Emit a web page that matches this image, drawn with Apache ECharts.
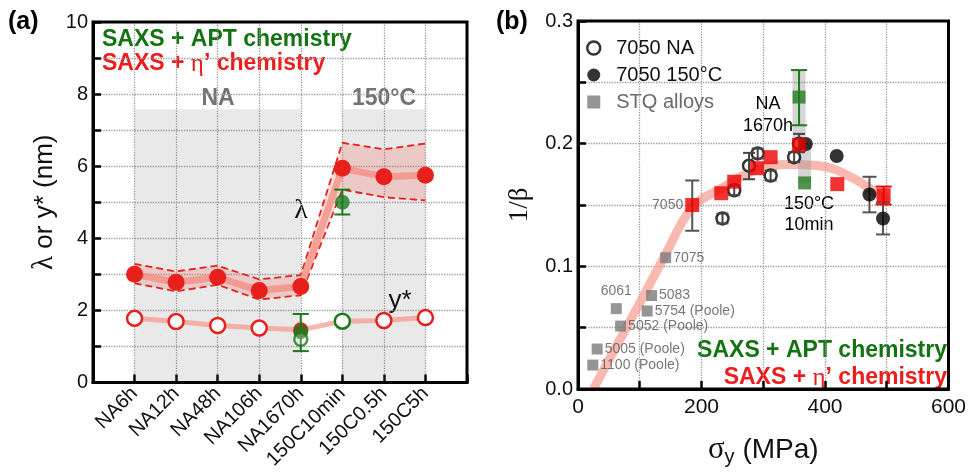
<!DOCTYPE html>
<html>
<head>
<meta charset="utf-8">
<script src="https://cdn.jsdelivr.net/npm/echarts@6/dist/echarts.min.js"></script>
<style>
  html, body { margin: 0; background: #fff; }
  #chart { width: 969px; height: 472px; }
</style>
</head>
<body>
<div id="chart"></div>
<script>
// ── Panel (a) data ──
const samples = ['NA6h', 'NA12h', 'NA48h', 'NA106h', 'NA1670h', '150C10min', '150C0.5h', '150C5h'];
const lambda = [3.0, 2.78, 2.92, 2.55, 2.66, 5.94, 5.71, 5.75];
const lambdaHigh = [3.29, 3.08, 3.24, 2.86, 2.98, 6.65, 6.47, 6.63];
const lambdaLow = [2.75, 2.53, 2.71, 2.30, 2.42, 5.35, 5.14, 5.05];
const yStar = [1.78, 1.69, 1.58, 1.51, 1.46, 1.70, 1.72, 1.80];
// APT chemistry: [sample index, value, low, high]
const aptLambda = [[5, 5.0, 4.66, 5.35]];
const aptYStar = [[4, 1.41, 0.87, 1.90]];
const aptYStarOpen = [[4, 1.2]];
const shadeRanges = [[0, 4], [5, 7]];
const shadeTop = 7.58;

// ── Panel (b) data ──  [sigma_y (MPa), 1/beta]
const naPts = [[358, 0.200], [234, 0.139], [253, 0.162], [277, 0.182], [291, 0.192], [312, 0.174], [350, 0.189]];
const naErr = [[358, 0.193, 0.208], [234, 0.135, 0.143], [253, 0.158, 0.166], [277, 0.171, 0.1925],
               [291, 0.188, 0.196], [312, 0.170, 0.178], [350, 0.185, 0.193]];
const t150Pts = [[369, 0.1997], [419, 0.190], [472, 0.1586], [494, 0.139]];
const t150Err = [[472, 0.144, 0.173], [494, 0.126, 0.152]];
const stqNames = ['7075', '5083', '6061', '5754 (Poole)', '5052 (Poole)', '5005 (Poole)', '1100 (Poole)'];
const stqPts = [[142, 0.107], [119, 0.0762], [62, 0.0655], [112, 0.0636], [69, 0.0513], [31, 0.0326], [24, 0.0195]];
const etaPts = [[185, 0.150], [232, 0.1596], [253, 0.169], [290, 0.180], [312, 0.189], [358, 0.199], [420, 0.167], [495, 0.158]];
const etaErr7050 = [[185, 0.129, 0.170]];
const etaErrHigh = [[495, 0.1505, 0.165]];
const aptPts = [[358, 0.238], [367, 0.168]];
const aptErr = [[358, 0.215, 0.260]];
const rangeBars = [[[358, 0.260], [358, 0.200]], [[367, 0.200], [367, 0.168]]];
const trend = [[25, 0], [60, 0.033], [100, 0.07], [140, 0.108], [185, 0.148], [230, 0.163], [285, 0.178],
               [340, 0.183], [390, 0.182], [445, 0.172], [500, 0.153]];

const RED = '#e8201c';
const GREEN = '#1b7a1b';
const FONT = '"Liberation Sans", Arial, sans-serif';
const SERIF = '"Liberation Serif", "Times New Roman", serif';

function errorBar(data, color, gi, half, z) {
  return {
    type: 'custom', xAxisIndex: gi, yAxisIndex: gi, z, silent: true,
    data,
    encode: { x: 0, y: [1, 2] },
    renderItem(params, api) {
      const x = api.value(0);
      const lo = api.coord([x, api.value(1)]);
      const hi = api.coord([x, api.value(2)]);
      const style = { stroke: color, lineWidth: 2 };
      return {
        type: 'group',
        children: [
          { type: 'line', shape: { x1: lo[0], y1: lo[1], x2: hi[0], y2: hi[1] }, style },
          { type: 'line', shape: { x1: lo[0] - half, y1: lo[1], x2: lo[0] + half, y2: lo[1] }, style },
          { type: 'line', shape: { x1: hi[0] - half, y1: hi[1], x2: hi[0] + half, y2: hi[1] }, style },
        ],
      };
    },
  };
}

const frameAxis = (extra) => Object.assign({
  axisLine: { show: true, onZero: false, lineStyle: { color: '#000', width: 3 } },
  axisTick: { show: true, inside: true, length: 8, lineStyle: { color: '#000', width: 2.5 } },
  splitLine: { show: true, lineStyle: { type: 'dotted', color: '#9a9a9a', width: 1.3 } },
}, extra);

const idx = samples.map((_, i) => i);

const chart = echarts.init(document.getElementById('chart'));
chart.setOption({
  animation: false,
  textStyle: { fontFamily: FONT },
  grid: [
    { left: 93, top: 22, width: 374, height: 372, show: true, borderColor: '#000', borderWidth: 3, z: 10 },
    { left: 578, top: 21, width: 375, height: 374, show: true, borderColor: '#000', borderWidth: 3, z: 10 },
  ],
  xAxis: [
    frameAxis({
      type: 'value', gridIndex: 0, min: -1, max: 8, interval: 1,
      axisLabel: { rotate: 45, fontSize: 20, color: '#111', margin: 8,
        formatter: v => samples[v] || '' },
    }),
    frameAxis({
      type: 'value', gridIndex: 1, min: 0, max: 600, interval: 100,
      axisLabel: { fontSize: 21, color: '#111', margin: 8,
        formatter: v => (v % 200 === 0 ? String(v) : '') },
      name: '{s|σ}{sub|y} (MPa)', nameLocation: 'middle', nameGap: 44,
      nameTextStyle: { fontSize: 28, color: '#111',
        rich: { s: { fontFamily: SERIF, fontSize: 31, color: '#111' },
                sub: { fontSize: 20, color: '#111', padding: [14, 0, 0, 0] } } },
    }),
  ],
  yAxis: [
    frameAxis({
      type: 'value', gridIndex: 0, min: 0, max: 10, interval: 1,
      axisLabel: { fontSize: 20, color: '#111', margin: 5,
        formatter: v => (v % 2 === 0 ? String(v) : '') },
      name: '{s|λ} or y* (nm)', nameLocation: 'middle', nameGap: 34,
      nameTextStyle: { fontSize: 26, color: '#111',
        rich: { s: { fontFamily: SERIF, fontSize: 29, color: '#111' } } },
    }),
    frameAxis({
      type: 'value', gridIndex: 1, min: 0, max: 0.3, interval: 0.05,
      axisLabel: { fontSize: 20, color: '#111', margin: 5,
        formatter: v => (Math.round(v * 100) % 10 === 0 ? v.toFixed(1) : '') },
      name: '1/β', nameLocation: 'middle', nameGap: 45,
      nameTextStyle: { fontFamily: SERIF, fontSize: 27, color: '#111' },
    }),
  ],
  legend: {
    left: 581, top: 33, orient: 'vertical', itemGap: 7, itemWidth: 13, itemHeight: 13,
    textStyle: { fontSize: 20, color: '#111', padding: [0, 0, 0, 11] },
    data: [
      { name: '7050 NA', icon: 'circle', itemStyle: { color: '#fff', borderColor: '#000', borderWidth: 2.5 } },
      { name: '7050 150°C', icon: 'circle' },
      { name: 'STQ alloys', icon: 'rect', textStyle: { color: '#6a6a6a' } },
    ],
  },
  series: [
    // ── Panel (a) ──
    {
      type: 'line', xAxisIndex: 0, yAxisIndex: 0, z: 0, silent: true, data: [],
      markArea: {
        silent: true,
        itemStyle: { color: 'rgba(120,120,120,0.16)' },
        data: shadeRanges.map(r => [{ coord: [r[0], 0] }, { coord: [r[1], shadeTop] }]),
      },
    },
    {
      // shaded band between lower and upper lambda bounds
      type: 'custom', xAxisIndex: 0, yAxisIndex: 0, z: 1, silent: true,
      data: [[0, lambdaLow[0]]],
      renderItem(params, api) {
        const upper = idx.map(i => api.coord([i, lambdaHigh[i]]));
        const lower = idx.map(i => api.coord([i, lambdaLow[i]])).reverse();
        return { type: 'polygon', shape: { points: upper.concat(lower) },
                 style: { fill: 'rgba(238,100,90,0.24)' } };
      },
    },
    ...[lambdaLow, lambdaHigh].map(arr => ({
      type: 'line', xAxisIndex: 0, yAxisIndex: 0, z: 2, silent: true, symbol: 'none',
      lineStyle: { color: RED, width: 1.8, type: [7, 4] },
      data: idx.map(i => [i, arr[i]]),
    })),
    {
      type: 'line', xAxisIndex: 0, yAxisIndex: 0, z: 3, silent: true,
      symbol: 'circle', symbolSize: 17,
      itemStyle: { color: RED },
      lineStyle: { color: 'rgba(246,140,128,0.75)', width: 7 },
      data: idx.map(i => [i, lambda[i]]),
    },
    {
      type: 'line', xAxisIndex: 0, yAxisIndex: 0, z: 3, silent: true,
      symbol: 'circle', symbolSize: 15,
      lineStyle: { color: 'rgba(246,150,140,0.7)', width: 5 },
      data: idx.map(i => ({
        value: [i, yStar[i]],
        itemStyle: samples[i] === 'NA1670h'
          ? { color: RED }
          : samples[i] === '150C10min'
            ? { color: '#fff', borderColor: GREEN, borderWidth: 2.5 }
            : { color: '#fff', borderColor: RED, borderWidth: 2.5 },
      })),
    },
    errorBar(aptLambda.concat(aptYStar).map(d => [d[0], d[2], d[3]]), GREEN, 0, 8, 4),
    {
      type: 'scatter', xAxisIndex: 0, yAxisIndex: 0, z: 5, silent: true,
      symbolSize: 15, itemStyle: { color: GREEN },
      data: aptLambda.concat(aptYStar).map(d => [d[0], d[1]]),
    },
    {
      type: 'scatter', xAxisIndex: 0, yAxisIndex: 0, z: 5, silent: true,
      symbolSize: 13, itemStyle: { color: 'rgba(255,255,255,0.3)', borderColor: GREEN, borderWidth: 2.5 },
      data: aptYStarOpen,
    },

    // ── Panel (b) ──
    {
      type: 'line', xAxisIndex: 1, yAxisIndex: 1, z: 1, silent: true, smooth: 0.4,
      symbol: 'none', lineStyle: { color: 'rgba(247,160,150,0.75)', width: 9 },
      data: trend,
    },
    ...rangeBars.map(seg => ({
      type: 'line', xAxisIndex: 1, yAxisIndex: 1, z: 2, silent: true, symbol: 'none',
      lineStyle: { color: 'rgba(150,150,150,0.4)', width: 13, cap: 'butt' },
      data: seg,
    })),
    errorBar(t150Err.concat(etaErr7050), '#555', 1, 7, 2),
    {
      name: 'STQ alloys', type: 'scatter', xAxisIndex: 1, yAxisIndex: 1, z: 3, silent: true,
      symbol: 'rect', symbolSize: 11, itemStyle: { color: '#7a7a7a' },
      label: { show: true, position: 'right', distance: 2, fontSize: 14, color: '#555',
        formatter: p => stqNames[p.dataIndex] },
      data: stqPts.map((p, i) => ({
        value: p,
        label: stqNames[i] === '6061' ? { position: 'top', distance: 5 } : undefined,
      })),
    },
    {
      name: '7050 NA', type: 'scatter', xAxisIndex: 1, yAxisIndex: 1, z: 3, silent: true,
      symbolSize: 12, itemStyle: { color: '#fff', borderColor: '#000', borderWidth: 2.5 },
      data: naPts,
    },
    errorBar(naErr, '#444', 1, 6, 4),
    {
      name: '7050 150°C', type: 'scatter', xAxisIndex: 1, yAxisIndex: 1, z: 3, silent: true,
      symbolSize: 14, itemStyle: { color: '#000' },
      data: t150Pts,
    },
    errorBar(etaErrHigh, '#ee0000', 1, 8, 4),
    errorBar(aptErr, GREEN, 1, 8, 4),
    {
      type: 'scatter', xAxisIndex: 1, yAxisIndex: 1, z: 5, silent: true,
      symbol: 'rect', symbolSize: 14, itemStyle: { color: '#ee0000' },
      label: { show: false },
      data: etaPts.map((p, i) => ({
        value: p,
        label: i === 0 ? { show: true, position: 'left', distance: 2, fontSize: 14, color: '#555', formatter: '7050' } : undefined,
      })),
    },
    {
      type: 'scatter', xAxisIndex: 1, yAxisIndex: 1, z: 5, silent: true,
      symbol: 'rect', symbolSize: 13, itemStyle: { color: '#237b23' },
      data: aptPts,
    },
  ],
  graphic: [
    { type: 'text', x: 8, y: 22, style: { text: '(a)', font: 'bold 25px ' + FONT, fill: '#000', verticalAlign: 'middle' } },
    { type: 'text', x: 496, y: 22, style: { text: '(b)', font: 'bold 25px ' + FONT, fill: '#000', verticalAlign: 'middle' } },
    { type: 'text', x: 102, y: 40, style: { text: 'SAXS + APT chemistry', font: 'bold 23px ' + FONT, fill: '#137313', verticalAlign: 'middle' } },
    { type: 'text', x: 102, y: 64, style: {
        text: 'SAXS + {e|η}’ chemistry', font: 'bold 23px ' + FONT, fill: '#ee1c1c', verticalAlign: 'middle',
        rich: { e: { fontFamily: SERIF, fontSize: 25, fontWeight: 'normal', fill: '#ee1c1c' } } } },
    { type: 'text', x: 218, y: 99, style: { text: 'NA', font: 'bold 23px ' + FONT, fill: '#737373', align: 'center', verticalAlign: 'middle' } },
    { type: 'text', x: 384, y: 99, style: { text: '150°C', font: 'bold 23px ' + FONT, fill: '#737373', align: 'center', verticalAlign: 'middle' } },
    { type: 'text', x: 301, y: 211, style: { text: 'λ', font: '28px ' + SERIF, fill: '#000', align: 'center', verticalAlign: 'middle' } },
    { type: 'text', x: 400, y: 301, style: { text: 'y*', font: '26px ' + FONT, fill: '#000', align: 'center', verticalAlign: 'middle' } },
    { type: 'text', x: 768, y: 115, style: { text: 'NA\n1670h', font: '18px ' + FONT, lineHeight: 22, fill: '#000', align: 'center', verticalAlign: 'middle' } },
    { type: 'text', x: 809, y: 215, style: { text: '150°C\n10min', font: '18px ' + FONT, lineHeight: 21, fill: '#000', align: 'center', verticalAlign: 'middle' } },
    { type: 'text', x: 947, y: 351, style: { text: 'SAXS + APT chemistry', font: 'bold 23px ' + FONT, fill: '#137313', align: 'right', verticalAlign: 'middle' } },
    { type: 'text', x: 947, y: 378, style: {
        text: 'SAXS + {e|η}’ chemistry', font: 'bold 23px ' + FONT, fill: '#ee1c1c', align: 'right', verticalAlign: 'middle',
        rich: { e: { fontFamily: SERIF, fontSize: 25, fontWeight: 'normal', fill: '#ee1c1c' } } } },
  ],
});
</script>
</body>
</html>
